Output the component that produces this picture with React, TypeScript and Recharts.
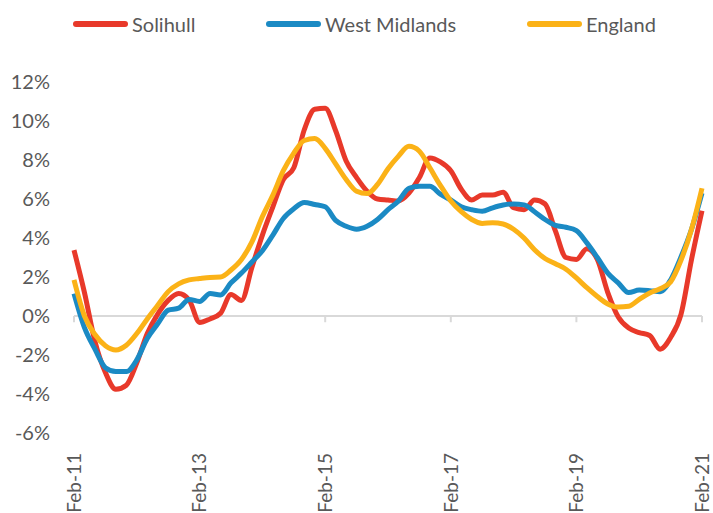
import { LineChart, Line, XAxis, YAxis, ReferenceLine, Legend } from "recharts";

// bimonthly points, Feb-11 .. Feb-21
const monthNames = ["Feb", "Apr", "Jun", "Aug", "Oct", "Dec"];
const dates: string[] = [];
for (let yr = 11; yr <= 21; yr++) {
  for (const m of monthNames) {
    if (yr === 21 && m !== "Feb") break;
    dates.push(`${m}-${yr}`);
  }
}

const tickLabels = ["Feb-11", "Feb-13", "Feb-15", "Feb-17", "Feb-19", "Feb-21"];
const yTicks = [-6, -4, -2, 0, 2, 4, 6, 8, 10, 12];

const solihull = [
  3.38, 1.2, -1.3, -2.9, -3.76, -3.55, -2.4, -0.9, 0.1, 0.8,
  1.15, 0.82, -0.33, -0.15, 0.14, 1.1, 0.8, 2.5, 4.15, 5.6,
  7.0, 7.6, 9.55, 10.6, 10.65, 9.5, 7.95, 7.1, 6.4, 6.0,
  5.95, 5.9, 6.3, 7.1, 8.1, 7.9, 7.45, 6.5, 5.95, 6.2,
  6.2, 6.35, 5.55, 5.45, 5.95, 5.75, 4.35, 3.0, 2.9, 3.45,
  2.9, 1.2, -0.05, -0.62, -0.85, -1.0, -1.7, -1.1, 0.1, 2.9,
  5.4,
];

const westMidlands = [
  1.15, -0.6, -1.7, -2.65, -2.85, -2.85, -2.25, -1.15, -0.4, 0.3,
  0.4, 0.85, 0.75, 1.15, 1.08, 1.7, 2.2, 2.77, 3.35, 4.15,
  5.0, 5.5, 5.82, 5.72, 5.6, 4.9, 4.6, 4.45, 4.6, 4.95,
  5.45, 5.9, 6.55, 6.65, 6.65, 6.25, 5.95, 5.6, 5.45, 5.37,
  5.55, 5.69, 5.75, 5.7, 5.35, 4.95, 4.65, 4.55, 4.38, 3.75,
  3.0, 2.2, 1.7, 1.2, 1.33, 1.3, 1.25, 1.85, 3.04, 4.45,
  6.3,
];

const england = [
  1.85, 0.0, -0.95, -1.52, -1.74, -1.5, -0.9, -0.15, 0.55, 1.25,
  1.65, 1.85, 1.92, 1.98, 2.0, 2.36, 2.9, 3.8, 5.1, 6.2,
  7.45, 8.35, 9.0, 9.1, 8.6, 7.8, 7.0, 6.4, 6.28, 6.75,
  7.55, 8.2, 8.7, 8.45, 7.6, 6.7, 5.9, 5.35, 4.95, 4.75,
  4.78, 4.72, 4.45, 4.0, 3.4, 2.95, 2.68, 2.4, 1.95, 1.45,
  1.0, 0.62, 0.46, 0.5, 0.85, 1.18, 1.4, 1.75, 2.87, 4.45,
  6.55,
];

const data = dates.map((date, i) => ({
  date,
  solihull: solihull[i],
  westMidlands: westMidlands[i],
  england: england[i],
}));

const series = [
  { key: "solihull", name: "Solihull", color: "#E8392A", width: 193 },
  { key: "westMidlands", name: "West Midlands", color: "#1B8AC4", width: 261 },
  { key: "england", name: "England", color: "#FBB217", width: 140 },
];

const FONT = "Lato, 'Open Sans', sans-serif";
const GREY = "#595959";
const FS = 20;

const DateTick = ({ x, y, payload }: any) => (
  <text
    x={x}
    y={y}
    dy="0.36em"
    textAnchor="end"
    transform={`rotate(-90, ${x}, ${y})`}
    fill={GREY}
    fontSize={19}
    fontFamily={FONT}
  >
    {payload.value}
  </text>
);

const renderLegend = () => (
  <div style={{ display: "flex", alignItems: "center", fontFamily: FONT, fontSize: FS, color: GREY }}>
    {series.map((s) => (
      <div key={s.key} style={{ display: "flex", alignItems: "center", width: s.width }}>
        <span
          style={{
            display: "inline-block",
            width: 55,
            height: 6,
            borderRadius: 3,
            background: s.color,
            marginRight: 4,
          }}
        />
        <span>{s.name}</span>
      </div>
    ))}
  </div>
);

const App = () => {
  return (
    <div style={{ position: "absolute", left: 0, top: 0, width: 713, height: 513 }}>
      <LineChart
        width={713}
        height={513}
        data={data}
        margin={{ top: 82, right: 11, left: 0, bottom: 0 }}
      >
        <Legend
          verticalAlign="middle"
          align="center"
          layout="horizontal"
          wrapperStyle={{ top: 12, left: 73, width: "auto" }}
          content={renderLegend}
        />
        <XAxis
          dataKey="date"
          ticks={tickLabels}
          interval={0}
          axisLine={false}
          tickLine={false}
          tickSize={0}
          tickMargin={20}
          height={80}
          tick={<DateTick />}
        />
        <YAxis
          type="number"
          domain={[-6, 12]}
          ticks={yTicks}
          width={74}
          axisLine={false}
          tickLine={false}
          tickSize={0}
          tickMargin={24}
          tickFormatter={(v: number) => `${v}%`}
          tick={{ fill: GREY, fontSize: FS, fontFamily: FONT }}
        />
        <ReferenceLine y={0} stroke="#D9D9D9" strokeWidth={2} />
        {tickLabels.map((t) => (
          <ReferenceLine
            key={t}
            segment={[
              { x: t, y: 0 },
              { x: t, y: -0.32 },
            ]}
            stroke="#D9D9D9"
            strokeWidth={2}
          />
        ))}
        {series.map((s) => (
          <Line
            key={s.key}
            type="monotone"
            dataKey={s.key}
            name={s.name}
            stroke={s.color}
            strokeWidth={5}
            dot={false}
            activeDot={false}
            isAnimationActive={false}
          />
        ))}
      </LineChart>
    </div>
  );
};

export default App;
